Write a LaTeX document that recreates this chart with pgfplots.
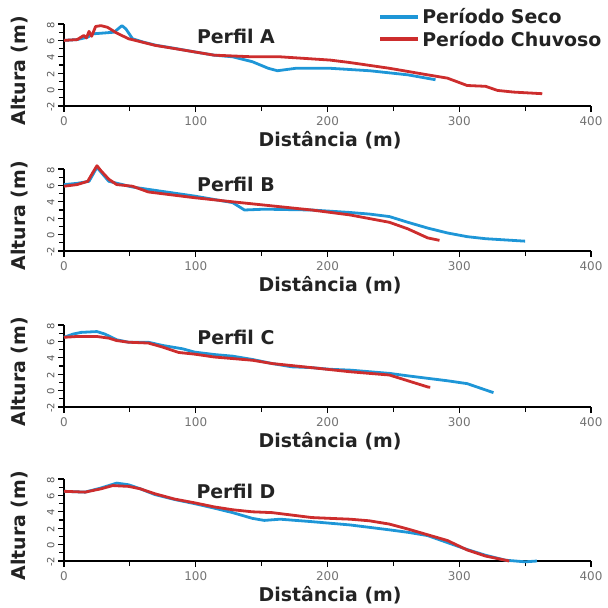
\documentclass[border=0pt]{standalone}
\usepackage{fontspec}
\setmainfont{DejaVu Sans}
\usepackage{pgfplots}
\pgfplotsset{compat=1.18}
\definecolor{seco}{RGB}{30,150,215}
\definecolor{chuv}{RGB}{205,45,45}
\definecolor{txt}{RGB}{35,35,35}
\pgfplotsset{prof/.style={
  scale only axis, width=527bp, height=82bp,
  xmin=0, xmax=400, ymin=-2, ymax=8,
  axis lines=left, axis line style={-, line width=2bp, black},
  xtick={0,100,...,400}, minor xtick={50,150,250,350},
  ytick={-2,0,...,8}, minor ytick={-1,1,3,5,7},
  tick style={black, line width=1.2bp},
  major tick length=6bp, minor tick length=5bp,
  tick align=outside,
  /pgf/number format/assume math mode=true,
  xticklabel style={font=\fontsize{12}{12}\selectfont, text=black!55, anchor=north, yshift=-1bp},
  yticklabel style={font=\fontsize{10}{10}\selectfont, text=black!65, rotate=90, anchor=south, xshift=-1bp},
  xlabel={Distância (m)}, ylabel={Altura (m)},
  label style={font=\bfseries\fontsize{19}{19}\selectfont, text=txt},
  xlabel style={at={(axis description cs:0.505,0)}, anchor=center, yshift=-34bp},
  ylabel style={at={(axis description cs:-0.0835,0.43)}, anchor=center, rotate=0},
  every axis plot/.append style={line width=2.8bp, line join=round},
  clip=false,
}}
\begin{document}
\begin{tikzpicture}
\useasboundingbox (0,0) rectangle (608bp,-608bp);
% Perfil A
\begin{axis}[prof, at={(64bp,-106bp)}, anchor=south west,
  legend style={at={(axis description cs:0.596,1.215)}, anchor=north west, draw=none, fill=none,
    font=\bfseries\fontsize{19}{19}\selectfont, text=txt, row sep=2bp, inner sep=0pt, cells={anchor=west}},
  legend image code/.code={\draw[#1, line width=4bp] (0bp,0bp) -- (38bp,0bp);}]
\addplot[seco] coordinates {(0,6.0) (10,6.1) (18,6.4) (22,6.8) (30,6.9) (38,7.0) (44,7.8) (47,7.4) (52,6.2) (60,5.8) (70,5.4) (85,5.0) (99,4.6) (114,4.2) (128,4.0) (143,3.4) (155,2.6) (162,2.3) (176,2.6) (202,2.6) (232,2.3) (261,1.8) (282,1.2)};
\addplot[chuv] coordinates {(0,6.0) (10,6.1) (15,6.6) (17,6.3) (19,7.1) (21,6.5) (24,7.7) (28,7.8) (33,7.6) (40,6.9) (49,6.2) (69,5.4) (99,4.6) (114,4.2) (143,4.0) (164,4.0) (202,3.6) (217,3.3) (247,2.6) (276,1.8) (291,1.4) (306,0.5) (320,0.4) (329,-0.1) (341,-0.3) (363,-0.5)};
\legend{Período Seco, Período Chuvoso}
\node[font=\bfseries\fontsize{19}{19}\selectfont, text=txt] at (axis cs:130.5,6.5) {Perfil A};
\end{axis}
% Perfil B
\begin{axis}[prof, at={(64bp,-251bp)}, anchor=south west]
\addplot[seco] coordinates {(0,6.1) (10,6.25) (19,6.5) (25,8.2) (34,6.5) (52,5.8) (69,5.4) (99,4.7) (128,3.9) (137,3.0) (152,3.1) (188,3.0) (217,2.7) (232,2.5) (247,2.2) (261,1.5) (276,0.8) (291,0.2) (306,-0.25) (320,-0.5) (350,-0.8)};
\addplot[chuv] coordinates {(0,5.9) (10,6.1) (18,6.5) (22,7.6) (25,8.4) (28,7.8) (34,6.75) (40,6.1) (52,5.9) (64,5.2) (99,4.5) (128,4.0) (158,3.5) (188,3.0) (217,2.4) (247,1.5) (261,0.7) (276,-0.4) (285,-0.7)};
\node[font=\bfseries\fontsize{19}{19}\selectfont, text=txt] at (axis cs:130.5,6.1) {Perfil B};
\end{axis}
% Perfil C
\begin{axis}[prof, at={(64bp,-407bp)}, anchor=south west]
\addplot[seco] coordinates {(0,6.5) (7,6.9) (13,7.1) (25,7.2) (31,6.9) (40,6.2) (49,5.9) (64,5.9) (75,5.5) (90,5.1) (99,4.7) (114,4.4) (128,4.2) (143,3.8) (158,3.3) (173,2.9) (188,2.8) (202,2.6) (217,2.5) (232,2.3) (247,2.1) (261,1.8) (276,1.5) (291,1.2) (306,0.85) (326,-0.25)};
\addplot[chuv] coordinates {(0,6.5) (10,6.6) (25,6.6) (34,6.4) (40,6.1) (49,5.9) (64,5.8) (75,5.3) (87,4.65) (99,4.45) (114,4.1) (143,3.7) (158,3.3) (188,2.8) (217,2.3) (247,1.9) (261,1.2) (276,0.45) (278,0.4)};
\node[font=\bfseries\fontsize{19}{19}\selectfont, text=txt] at (axis cs:130.5,6.5) {Perfil C};
\end{axis}
% Perfil D
\begin{axis}[prof, at={(64bp,-561bp)}, anchor=south west]
\addplot[seco] coordinates {(0,6.5) (16,6.4) (28,6.9) (40,7.5) (49,7.3) (58,6.8) (69,6.1) (84,5.5) (99,5.0) (114,4.45) (128,3.9) (143,3.2) (152,2.95) (164,3.1) (188,2.8) (217,2.4) (247,1.8) (261,1.5) (276,1.1) (291,0.25) (306,-0.6) (320,-1.3) (335,-1.9) (350,-2.1) (359,-2.0)};
\addplot[chuv] coordinates {(0,6.5) (16,6.4) (28,6.8) (37,7.2) (49,7.1) (58,6.8) (69,6.2) (84,5.55) (99,5.1) (114,4.6) (128,4.25) (143,4.0) (158,3.9) (173,3.6) (188,3.3) (202,3.2) (217,3.1) (232,2.9) (247,2.5) (261,1.9) (276,1.2) (291,0.5) (306,-0.65) (320,-1.4) (332,-1.8) (338,-2.0)};
\node[font=\bfseries\fontsize{19}{19}\selectfont, text=txt] at (axis cs:130.5,6.5) {Perfil D};
\end{axis}
\end{tikzpicture}
\end{document}
